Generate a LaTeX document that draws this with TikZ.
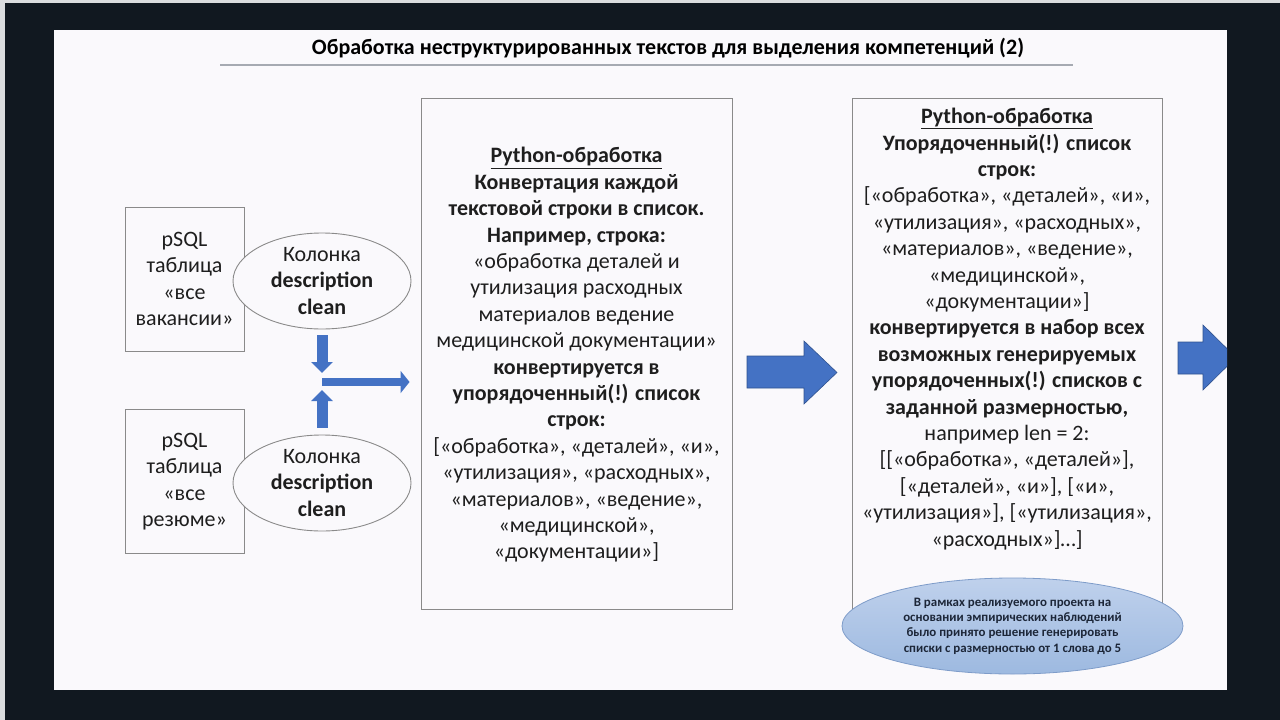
\documentclass[tikz,border=0pt]{standalone}
\usepackage{fontspec}
\setmainfont{Carlito}
\usetikzlibrary{shapes.geometric,arrows.meta}
\definecolor{framebg}{HTML}{111820}
\definecolor{slidebg}{HTML}{FAF9FC}
\definecolor{arrblue}{HTML}{4472C4}
\definecolor{arrline}{HTML}{2F528F}
\definecolor{boxgray}{HTML}{8A8A8A}
\definecolor{notetop}{HTML}{BFD1EC}
\definecolor{notebot}{HTML}{9DB9E0}
\definecolor{noteline}{HTML}{7E9CC9}
\definecolor{txt}{HTML}{1E1E1E}
\definecolor{notetxt}{HTML}{1C2638}
\definecolor{rulegray}{HTML}{A6AAB2}
\begin{document}
\begin{tikzpicture}[x=1pt,y=-1pt,
  bodyfont/.style={font=\fontsize{22}{26.4}\selectfont},
  tablebox/.style={draw=boxgray, line width=0.9pt, fill=slidebg, minimum width=119pt, minimum height=144pt, inner sep=0pt, align=center, bodyfont, text=txt},
  colell/.style={ellipse, draw=boxgray, line width=0.9pt, fill=slidebg, minimum width=178pt, minimum height=96pt, inner sep=0pt, align=center, bodyfont, text=txt},
  procbox/.style={draw=boxgray, line width=0.9pt, fill=slidebg, inner sep=0pt},
  proctext/.style={align=center, bodyfont, text=txt, inner sep=0pt},
  smallarr/.style={draw=arrblue, line width=11pt},
  bigarr/.style={fill=arrblue, draw=arrline, line width=0.6pt},
  noteell/.style={ellipse, draw=noteline, line width=0.8pt, top color=notetop, bottom color=notebot, minimum width=341pt, minimum height=96pt, inner sep=0pt, align=center, text=notetxt, font=\bfseries\fontsize{12.9}{15.3}\selectfont}
]
\useasboundingbox (0,0) rectangle (1280,720);
\fill[framebg] (0,0) rectangle (1280,720);
\fill[white!85!framebg] (0,0) rectangle (5,720);
\fill[white!85!framebg] (0,0) rectangle (1280,3);
\fill[slidebg] (54,30) rectangle (1227,690);

% title
\node[font=\bfseries\fontsize{22}{26}\selectfont, text=black, inner sep=0pt] (title) at (668,48) {Обработка неструктурированных текстов для выделения компетенций (2)};
\draw[rulegray, line width=2pt] (220,65) -- (1073,65);

% left column
\node[tablebox] (tab1) at (184.5,279) {pSQL\\таблица\\«все\\вакансии»};
\node[tablebox] (tab2) at (184.5,481.5) {pSQL\\таблица\\«все\\резюме»};
\node[colell] (ell1) at (322,281) {Колонка\\\textbf{description}\\\textbf{clean}};
\node[colell] (ell2) at (322,483) {Колонка\\\textbf{description}\\\textbf{clean}};

% middle box
\node[procbox, minimum width=311pt, minimum height=511pt] (mid) at (576.5,353.5) {};
\node[proctext] (midtxt) at (576.5,355) {\textbf{\underline{Python-обработка}}\\
\textbf{Конвертация каждой}\\
\textbf{текстовой строки в список.}\\
\textbf{Например, строка:}\\
«обработка деталей и\\
утилизация расходных\\
материалов ведение\\
медицинской документации»\\
\textbf{конвертируется в}\\
\textbf{упорядоченный(!) список}\\
\textbf{строк:}\\
{[}«обработка», «деталей», «и»,\\
«утилизация», «расходных»,\\
«материалов», «ведение»,\\
«медицинской»,\\
«документации»]};

% small arrows
\coordinate (J) at (322,382);
\draw[smallarr, -{Triangle[width=21pt,length=11pt]}] ([yshift=-6pt]ell1.south) -- ([yshift=9pt]J);
\draw[smallarr, -{Triangle[width=21pt,length=11pt]}] ([yshift=7pt]ell2.north) -- ([yshift=-8pt]J);
\draw[arrblue, line width=8pt, -{Triangle[width=22pt,length=9pt]}] (J) -- ([xshift=-11pt]J -| mid.west);

% right box
\node[procbox, minimum width=310pt, minimum height=542pt] (right) at (1007,369) {};
\node[proctext] (righttxt) at (1007,329) {\textbf{\underline{Python-обработка}}\\
\textbf{Упорядоченный(!) список}\\
\textbf{строк:}\\
{[}«обработка», «деталей», «и»,\\
«утилизация», «расходных»,\\
«материалов», «ведение»,\\
«медицинской»,\\
«документации»]\\
\textbf{конвертируется в набор всех}\\
\textbf{возможных генерируемых}\\
\textbf{упорядоченных(!) списков с}\\
\textbf{заданной размерностью,}\\
например len = 2:\\
{[[}«обработка», «деталей»],\\
{[}«деталей», «и»], [«и»,\\
«утилизация»], [«утилизация»,\\
«расходных»]…]};

% note ellipse
\node[noteell] (note) at (1012.5,626) {В рамках реализуемого проекта на\\основании эмпирических наблюдений\\было принято решение генерировать\\списки с размерностью от 1 слова до 5};

% big arrows
\draw[bigarr] (747,356) -- (804,356) -- (804,341) -- (837,372.5) -- (804,404) -- (804,388) -- (747,388) -- cycle;
\begin{scope}
\clip (54,30) rectangle (1227,690);
\draw[bigarr] (1178,342) -- (1203,342) -- (1203,325) -- (1236,357.5) -- (1203,390) -- (1203,374) -- (1178,374) -- cycle;
\end{scope}
\end{tikzpicture}
\end{document}
